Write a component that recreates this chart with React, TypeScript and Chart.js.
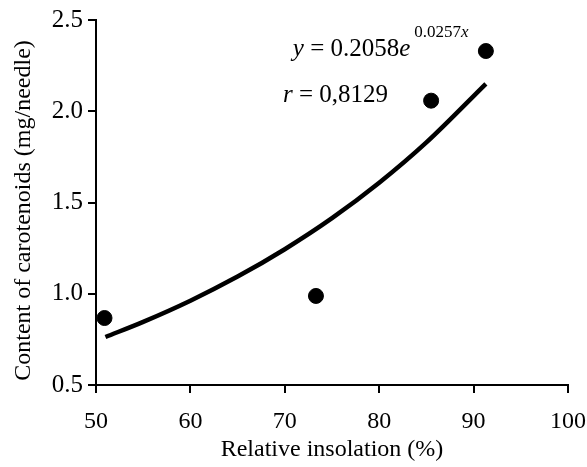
import React, { useEffect, useRef } from "react";
import { Chart, registerables } from "chart.js";

Chart.register(...registerables);

// Measured points
const insolation = [50.9, 73.3, 85.5, 91.3];
const carotenoids = [0.867, 0.988, 2.058, 2.33];

// Exponential trendline
const trendX = [51, 55, 60, 65, 70, 75, 80, 85, 91.3];
const trendY = [0.763, 0.846, 0.962, 1.094, 1.244, 1.414, 1.608, 1.829, 2.15];

const xTickValues = [50, 60, 70, 80, 90, 100];
const yTickValues = [0.5, 1.0, 1.5, 2.0, 2.5];

const xTitle = "Relative insolation (%)";
const yTitle = "Content of carotenoids (mg/needle)";

const eqCoef = "0.2058";
const eqExp = "0.0257";
const rValue = "0,8129";
const eqAnchor = { x: 70.85, y: 2.305 };
const rAnchor = { x: 69.8, y: 2.05 };

const FONT = "'Liberation Serif', 'Times New Roman', serif";

const annotationPlugin = {
  id: "eqAnnotation",
  afterDraw(chart: any) {
    const ctx = chart.ctx;
    const xs = chart.scales.x;
    const ys = chart.scales.y;
    const area = chart.chartArea;
    ctx.save();
    ctx.fillStyle = "#000";
    ctx.textBaseline = "alphabetic";
    ctx.textAlign = "left";
    // equation
    let px = xs.getPixelForValue(eqAnchor.x);
    const py = ys.getPixelForValue(eqAnchor.y);
    const put = (t: string, font: string, dy = 0) => {
      ctx.font = font;
      ctx.fillText(t, px, py + dy);
      px += ctx.measureText(t).width;
    };
    put("y", `italic 25px ${FONT}`);
    put(" = " + eqCoef, `25px ${FONT}`);
    put("e", `italic 25px ${FONT}`);
    px += 4;
    put(eqExp, `17px ${FONT}`, -19);
    put("x", `italic 17px ${FONT}`, -19);
    // r value
    px = xs.getPixelForValue(rAnchor.x);
    const ry = ys.getPixelForValue(rAnchor.y);
    ctx.font = `italic 25px ${FONT}`;
    ctx.fillText("r", px, ry);
    px += ctx.measureText("r").width;
    ctx.font = `25px ${FONT}`;
    ctx.fillText(" = " + rValue, px, ry);
    // y axis title
    ctx.font = `24px ${FONT}`;
    ctx.textAlign = "center";
    ctx.translate(30, (area.top + area.bottom) / 2 + 8);
    ctx.rotate(-Math.PI / 2);
    ctx.fillText(yTitle, 0, 0);
    ctx.restore();
  },
};

export default function App() {
  const ref = useRef<HTMLCanvasElement | null>(null);
  useEffect(() => {
    if (!ref.current) return;
    const chart = new Chart(ref.current, {
      type: "scatter",
      data: {
        datasets: [
          {
            type: "line",
            data: trendX.map((x, i) => ({ x, y: trendY[i] })),
            borderColor: "#000",
            borderWidth: 4.5,
            pointRadius: 0,
            tension: 0.4,
            cubicInterpolationMode: "monotone",
            fill: false,
          } as any,
          {
            type: "scatter",
            data: insolation.map((x, i) => ({ x, y: carotenoids[i] })),
            backgroundColor: "#000",
            borderColor: "#000",
            pointRadius: 7.5,
            pointHoverRadius: 7.5,
          },
        ],
      },
      options: {
        animation: false,
        responsive: true,
        maintainAspectRatio: false,
        events: [],
        layout: { padding: { top: 20, right: 19, left: 0, bottom: 0 } },
        plugins: {
          legend: { display: false },
          tooltip: { enabled: false },
        },
        scales: {
          x: {
            type: "linear",
            min: 50,
            max: 100,
            afterBuildTicks: (s: any) => {
              s.ticks = xTickValues.map((v) => ({ value: v }));
            },
            afterFit: (s: any) => {
              s.height = 82;
              s.paddingLeft = 0;
              s.paddingRight = 0;
            },
            ticks: {
              color: "#000",
              font: { family: FONT, size: 24 },
              padding: 14,
              callback: (v: any) => String(v),
            },
            grid: {
              drawOnChartArea: false,
              drawTicks: true,
              tickLength: 8,
              color: "#000",
              lineWidth: 2,
            },
            border: { display: true, color: "#000", width: 2 },
            title: {
              display: true,
              text: xTitle,
              color: "#000",
              font: { family: FONT, size: 24 },
              padding: { top: 4, bottom: 3 },
            },
          },
          y: {
            type: "linear",
            min: 0.5,
            max: 2.5,
            afterBuildTicks: (s: any) => {
              s.ticks = yTickValues.map((v) => ({ value: v }));
            },
            afterFit: (s: any) => {
              s.width = 96;
              s.paddingTop = 0;
              s.paddingBottom = 0;
            },
            ticks: {
              color: "#000",
              font: { family: FONT, size: 25 },
              padding: 5,
              callback: (v: any) => Number(v).toFixed(1),
            },
            grid: {
              drawOnChartArea: false,
              drawTicks: true,
              tickLength: 8,
              color: "#000",
              lineWidth: 2,
            },
            border: { display: true, color: "#000", width: 2 },
            title: { display: false },
          },
        },
      },
      plugins: [annotationPlugin],
    });
    return () => chart.destroy();
  }, []);
  return (
    <div style={{ position: "fixed", left: 0, top: 0, width: 587, height: 467, background: "#fff" }}>
      <canvas ref={ref} />
    </div>
  );
}
